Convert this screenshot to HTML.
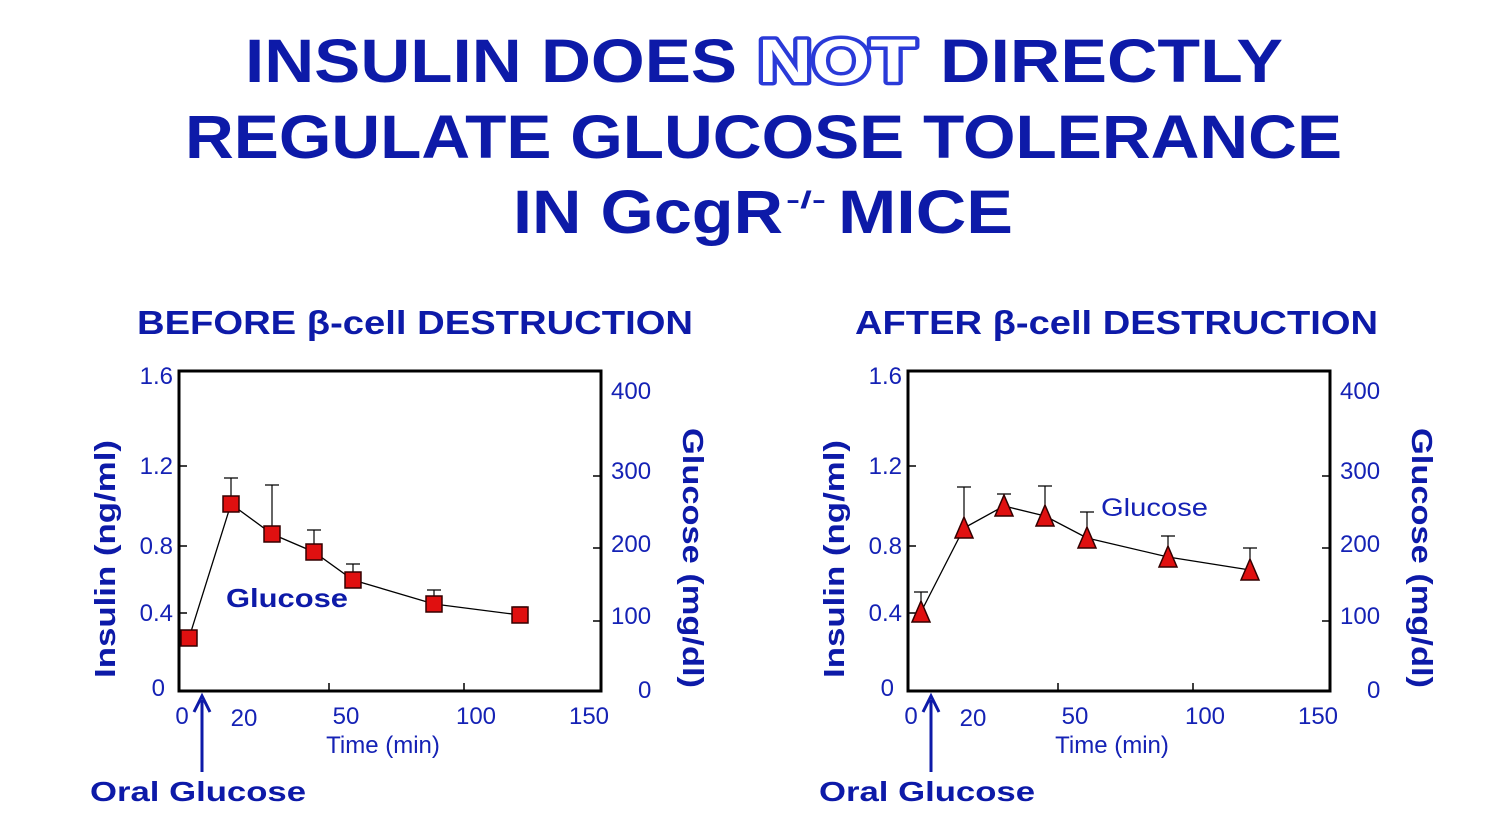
<!DOCTYPE html>
<html><head><meta charset="utf-8"><style>
html,body{margin:0;padding:0;background:#fff;}
svg{display:block;}
text{font-family:"Liberation Sans",sans-serif;}
</style></head><body>
<svg width="1490" height="838" viewBox="0 0 1490 838" xmlns="http://www.w3.org/2000/svg">
<rect width="1490" height="838" fill="#fff"/>
<g fill="#0d1aa8" font-weight="bold" font-size="61">
<text x="245" y="82" textLength="492" lengthAdjust="spacingAndGlyphs">INSULIN DOES</text>
<text x="758" y="82" textLength="158" lengthAdjust="spacingAndGlyphs" fill="#fff" stroke="#2a3ad8" stroke-width="7" paint-order="stroke" stroke-linejoin="round">NOT</text>
<text x="940" y="82" textLength="343" lengthAdjust="spacingAndGlyphs">DIRECTLY</text>
<text x="185" y="158" textLength="1157" lengthAdjust="spacingAndGlyphs">REGULATE GLUCOSE TOLERANCE</text>
<text x="513" y="233" textLength="270" lengthAdjust="spacingAndGlyphs">IN GcgR</text>
<text x="786" y="208" font-size="24" textLength="40" lengthAdjust="spacingAndGlyphs">-/-</text>
<text x="838" y="233" textLength="175" lengthAdjust="spacingAndGlyphs">MICE</text>
</g>
<g fill="#0d1aa8" font-weight="bold" font-size="33">
<text x="137" y="334" textLength="556" lengthAdjust="spacingAndGlyphs">BEFORE β-cell DESTRUCTION</text>
<text x="855" y="334" textLength="523" lengthAdjust="spacingAndGlyphs">AFTER β-cell DESTRUCTION</text>
</g>

<!-- Left chart -->
<g id="L">
<rect x="179" y="371" width="422" height="320" fill="none" stroke="#000" stroke-width="3"/>
<g stroke="#000" stroke-width="1.5">
<line x1="179" y1="466" x2="187" y2="466"/><line x1="179" y1="546" x2="187" y2="546"/><line x1="179" y1="613" x2="187" y2="613"/>
<line x1="601" y1="476" x2="593" y2="476"/><line x1="601" y1="548" x2="593" y2="548"/><line x1="601" y1="621" x2="593" y2="621"/>
<line x1="329" y1="691" x2="329" y2="683"/><line x1="464" y1="691" x2="464" y2="683"/>
</g>
<g fill="#1522b5" font-size="24" text-anchor="end">
<text x="173" y="384">1.6</text><text x="173" y="474">1.2</text><text x="173" y="554">0.8</text><text x="173" y="621">0.4</text><text x="165" y="696">0</text>
</g>
<g fill="#1522b5" font-size="24">
<text x="611" y="399">400</text><text x="611" y="479">300</text><text x="611" y="552">200</text><text x="611" y="624">100</text><text x="638" y="698">0</text>
</g>
<g fill="#1522b5" font-size="24" text-anchor="middle">
<text x="182" y="724">0</text><text x="244" y="726">20</text><text x="346" y="724">50</text><text x="476" y="724">100</text><text x="589" y="724">150</text>
<text x="383" y="753">Time (min)</text>
</g>
<text transform="translate(115,559) rotate(-90)" fill="#0d1aa8" font-weight="bold" font-size="29" text-anchor="middle" textLength="238" lengthAdjust="spacingAndGlyphs">Insulin (ng/ml)</text>
<text transform="translate(683,558) rotate(90)" fill="#0d1aa8" font-weight="bold" font-size="29" text-anchor="middle" textLength="260" lengthAdjust="spacingAndGlyphs">Glucose (mg/dl)</text>
<line x1="202" y1="772" x2="202" y2="700" stroke="#0d1aa8" stroke-width="3"/>
<path d="M194 712 L202 696 L210 712" fill="none" stroke="#0d1aa8" stroke-width="3"/>
<text x="90" y="801" fill="#0d1aa8" font-weight="bold" font-size="28" textLength="216" lengthAdjust="spacingAndGlyphs">Oral Glucose</text>
</g>
<g stroke="#000" stroke-width="1.2" fill="none">
<path d="M231 504V478M224 478h14 M272 534V485M265 485h14 M314 552V530M307 530h14 M353 580V564M346 564h14 M434 604V590M427 590h14 M520 615V607M513 607h14"/>
<polyline points="189,638 231,504 272,534 314,552 353,580 434,604 520,615" stroke-width="1.3"/>
</g>
<g fill="#e01010" stroke="#300" stroke-width="1.5">
<rect x="181" y="630" width="16" height="16"/><rect x="223" y="496" width="16" height="16"/><rect x="264" y="526" width="16" height="16"/><rect x="306" y="544" width="16" height="16"/><rect x="345" y="572" width="16" height="16"/><rect x="426" y="596" width="16" height="16"/><rect x="512" y="607" width="16" height="16"/>
</g>
<text x="226" y="607" fill="#0d1aa8" font-weight="bold" font-size="26" textLength="122" lengthAdjust="spacingAndGlyphs">Glucose</text>

<!-- Right chart -->
<g transform="translate(729,0)">
<use href="#L"/>
</g>
<g stroke="#000" stroke-width="1.2" fill="none">
<path d="M921 612V592M914 592h14 M964 528V487M957 487h14 M1004 506V494M997 494h14 M1045 516V486M1038 486h14 M1087 538V512M1080 512h14 M1168 557V536M1161 536h14 M1250 570V548M1243 548h14"/>
<polyline points="921,612 964,528 1004,506 1045,516 1087,538 1168,557 1250,570" stroke-width="1.3"/>
</g>
<g fill="#e01010" stroke="#300" stroke-width="1.5">
<polygon points="921,601 930,622 912,622"/><polygon points="964,517 973,538 955,538"/><polygon points="1004,495 1013,516 995,516"/><polygon points="1045,505 1054,526 1036,526"/><polygon points="1087,527 1096,548 1078,548"/><polygon points="1168,546 1177,567 1159,567"/><polygon points="1250,559 1259,580 1241,580"/>
</g>
<text x="1101" y="516" fill="#1522b5" font-size="25" textLength="107" lengthAdjust="spacingAndGlyphs">Glucose</text>
</svg>
</body></html>
